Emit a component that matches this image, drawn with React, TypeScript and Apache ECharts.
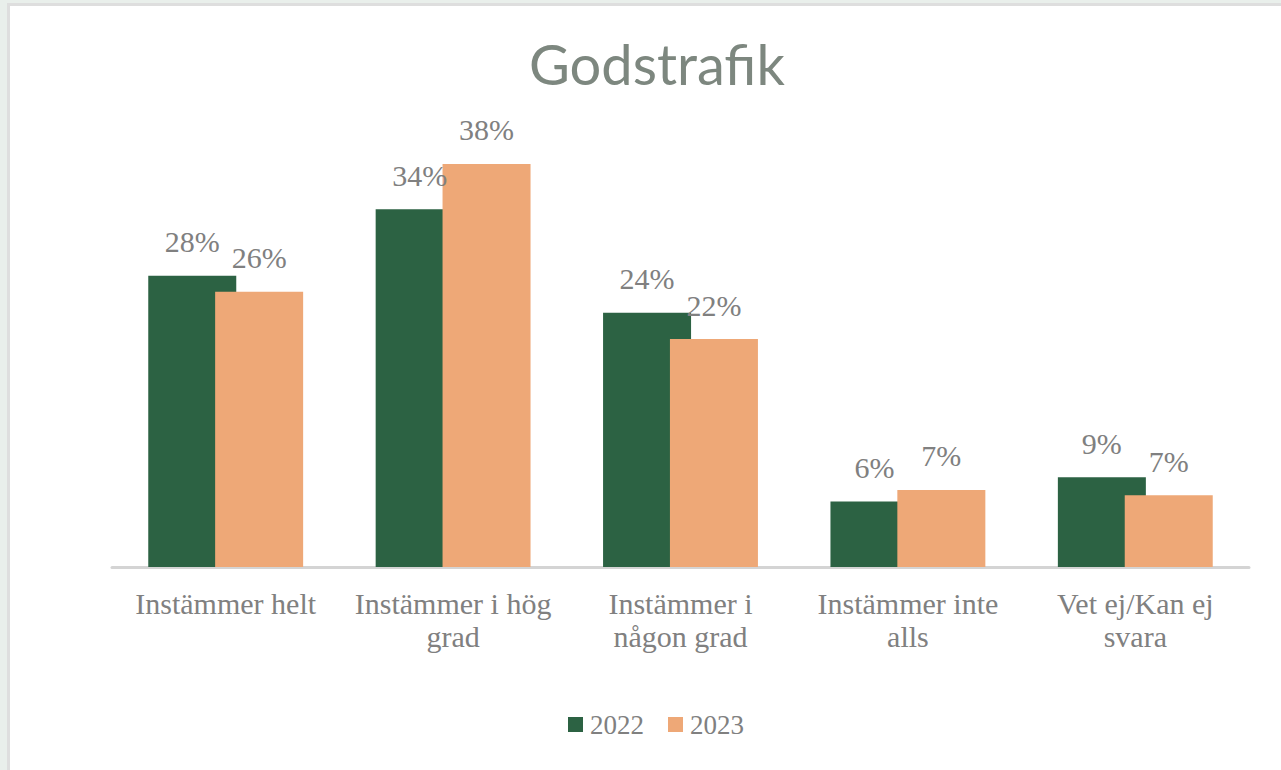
import React, { useEffect, useRef } from "react";
import * as echarts from "echarts";

const categories = [
  "Instämmer helt",
  "Instämmer i hög grad",
  "Instämmer i någon grad",
  "Instämmer inte alls",
  "Vet ej/Kan ej svara",
];
const tickLabels = [
  "Instämmer helt",
  "Instämmer i hög\ngrad",
  "Instämmer i\nnågon grad",
  "Instämmer inte\nalls",
  "Vet ej/Kan ej\nsvara",
];
const values2022 = [27.6, 33.9, 24.1, 6.2, 8.5];
const values2023 = [26.1, 38.2, 21.6, 7.3, 6.8];
const seriesNames = ["2022", "2023"];
const title = "Godstrafik";

const GREEN = "#2c6243";
const ORANGE = "#eea877";
const LABEL_GREY = "#808080";
const SERIF = "'Liberation Serif', 'Times New Roman', serif";

export default function App() {
  const ref = useRef<HTMLDivElement>(null);
  useEffect(() => {
    if (!ref.current) return;
    const chart = echarts.init(ref.current, null, { renderer: "svg" });
    const labelOpt = {
      show: true,
      position: "top",
      distance: 19,
      color: LABEL_GREY,
      fontFamily: SERIF,
      fontSize: 30,
      formatter: (p: any) => `${Math.round(p.value)}%`,
    };
    chart.setOption({
      animation: false,
      backgroundColor: "transparent",
      title: {
        text: title,
        left: 524,
        top: 30,
        textStyle: {
          fontFamily: "Lato, 'Noto Sans', sans-serif",
          fontWeight: "normal",
          fontSize: 56,
          color: "#7d877f",
        },
      },
      legend: {
        data: seriesNames,
        left: 563,
        top: 706,
        itemWidth: 15,
        itemHeight: 15,
        itemGap: 24,
        icon: "rect",
        textStyle: {
          fontFamily: SERIF,
          fontSize: 27,
          color: LABEL_GREY,
          padding: [0, 0, 0, 2],
        },
      },
      grid: {
        left: 112,
        right: 32,
        top: 145,
        bottom: 203,
        containLabel: false,
      },
      xAxis: {
        type: "category",
        data: categories,
        axisLine: { lineStyle: { color: "#d4d4d4", width: 3 } },
        axisTick: { show: false },
        axisLabel: {
          interval: 0,
          margin: 20,
          fontFamily: SERIF,
          fontSize: 30,
          lineHeight: 33,
          color: LABEL_GREY,
          formatter: (_v: string, i: number) => tickLabels[i],
        },
      },
      yAxis: {
        type: "value",
        min: 0,
        max: 40,
        show: false,
        splitLine: { show: false },
      },
      series: [
        {
          name: seriesNames[0],
          type: "bar",
          data: values2022,
          barWidth: 88,
          barGap: "-24%",
          itemStyle: { color: GREEN },
          label: labelOpt,
        },
        {
          name: seriesNames[1],
          type: "bar",
          data: values2023,
          barWidth: 88,
          barGap: "-24%",
          itemStyle: { color: ORANGE },
          label: labelOpt,
        },
      ],
    });
    return () => chart.dispose();
  }, []);

  return (
    <div
      style={{
        position: "fixed",
        left: 0,
        top: 0,
        width: 1281,
        height: 770,
        background: "#e9efeb",
        overflow: "hidden",
      }}
    >
      <div
        style={{
          position: "absolute",
          left: 7,
          top: 3,
          right: 0,
          bottom: 0,
          borderLeft: "3px solid #dedede",
          borderTop: "3px solid #dedede",
          background: "#ffffff",
        }}
      />
      <div
        ref={ref}
        style={{ position: "absolute", left: 0, top: 0, width: 1281, height: 770 }}
      />
    </div>
  );
}
